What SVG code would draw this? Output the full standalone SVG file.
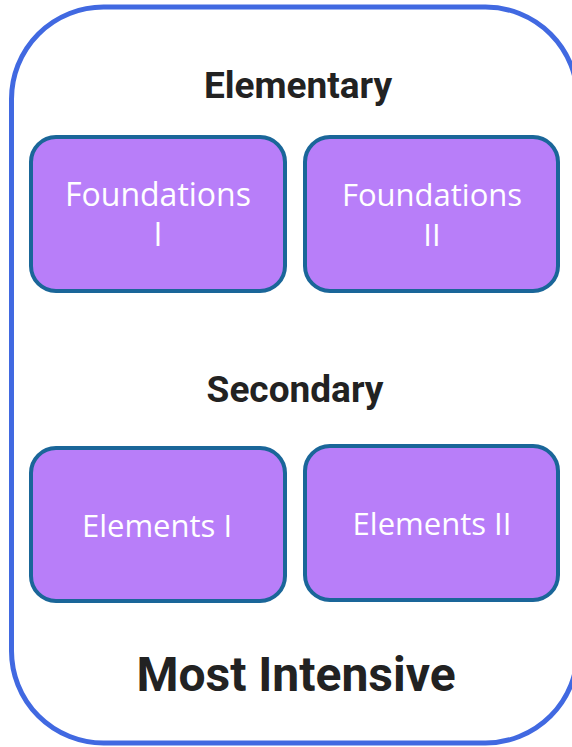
<svg xmlns="http://www.w3.org/2000/svg" width="572" height="747" viewBox="0 0 572 747">
<style>
.box{fill:#b87ef9;stroke:#1a6699;stroke-width:4}
.lbl{font-family:"Open Sans","Noto Sans",sans-serif;font-size:31px;fill:#ffffff;text-anchor:middle}
.big{font-size:32px}
.hd{font-family:Roboto,"Liberation Sans",sans-serif;font-weight:bold;fill:#222222;text-anchor:middle}
</style>
<rect x="11.5" y="7" width="566" height="736" rx="92" ry="92" fill="#ffffff" stroke="#4169e1" stroke-width="5"/>
<text class="hd" x="298" y="98" font-size="37">Elementary</text>
<text class="hd" x="295" y="402" font-size="37">Secondary</text>
<text class="hd" x="296" y="691" font-size="48">Most Intensive</text>
<g id="foundations1">
<rect class="box" x="31" y="137" width="254" height="154" rx="25"/>
<text class="lbl big" x="158" y="206">Foundations</text>
<text class="lbl big" x="158" y="246">I</text>
</g>
<g id="foundations2">
<rect class="box" x="305" y="137" width="253" height="154" rx="25"/>
<text class="lbl" x="432" y="206">Foundations</text>
<text class="lbl" x="432" y="246">II</text>
</g>
<g id="elements1">
<rect class="box" x="31" y="448" width="254" height="153" rx="25"/>
<text class="lbl" x="157" y="537">Elements I</text>
</g>
<g id="elements2">
<rect class="box" x="305" y="446" width="253" height="154" rx="25"/>
<text class="lbl" x="432" y="535">Elements II</text>
</g>
<g id="connectors"/>
</svg>
